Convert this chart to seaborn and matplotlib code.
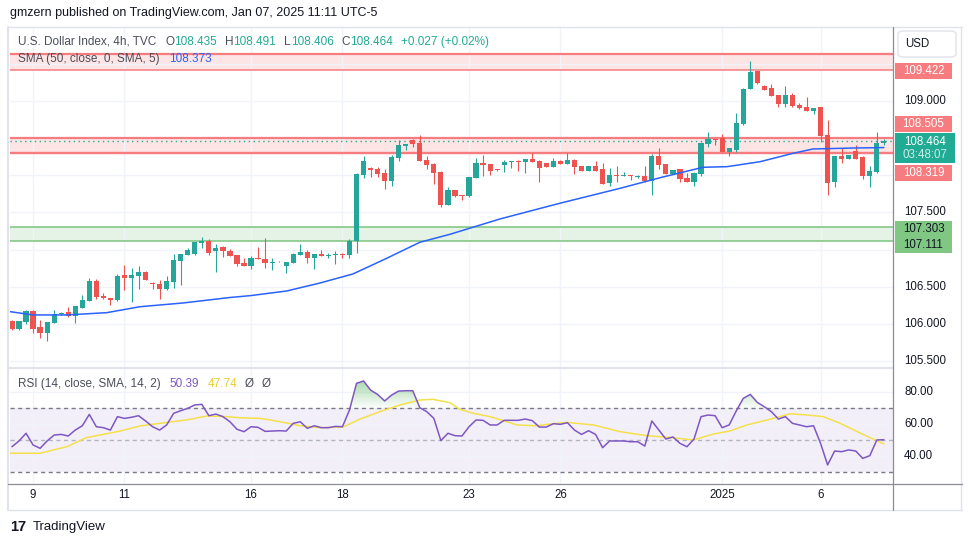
import numpy as np
import pandas as pd
import matplotlib
matplotlib.use('Agg')
import matplotlib.pyplot as plt
import seaborn as sns
from matplotlib.patches import Rectangle, FancyBboxPatch
from matplotlib.lines import Line2D
from matplotlib.path import Path
from matplotlib.colors import LinearSegmentedColormap

# DXY 4h candles, Dec 9 2024 -> Jan 7 2025
opens = [106.04, 105.93, 106.03, 106.17, 105.96, 105.88, 106.01, 106.13, 106.16, 106.11,
         106.21, 106.31, 106.58, 106.38, 106.35, 106.32, 106.66, 106.62, 106.65, 106.70,
         106.55, 106.54, 106.47, 106.56, 106.85, 106.93, 106.94, 107.09, 107.12, 106.98,
         107.03, 106.98, 106.93, 106.82, 106.78, 106.89, 106.87, 106.82, 106.84, 106.78,
         106.82, 106.93, 106.97, 106.89, 106.94, 106.92, 106.93, 106.94, 106.93, 107.12,
         108.00, 108.10, 108.08, 108.03, 107.92, 108.23, 108.39, 108.47, 108.43, 108.21,
         108.15, 108.04, 107.60, 107.80, 107.73, 107.72, 107.96, 108.17, 108.15, 108.08,
         108.14, 108.18, 108.19, 108.18, 108.22, 108.19, 108.17, 108.11, 108.19, 108.15,
         108.21, 108.12, 108.06, 108.12, 108.08, 107.90, 108.00, 107.99, 108.00, 107.98,
         107.99, 107.92, 108.26, 108.15, 108.02, 108.08, 107.96, 107.91, 108.02, 108.42,
         108.49, 108.50, 108.31, 108.34, 108.69, 109.16, 109.40, 109.20, 109.17, 109.08,
         108.96, 109.08, 108.95, 108.92, 108.87, 108.92, 108.54, 107.91, 108.26, 108.22,
         108.33, 108.25, 107.99, 108.04, 108.435]
highs = [106.05, 106.04, 106.19, 106.19, 106.05, 106.03, 106.19, 106.16, 106.23, 106.24,
         106.39, 106.62, 106.60, 106.42, 106.35, 106.67, 106.79, 106.75, 106.78, 106.71,
         106.56, 106.59, 106.65, 106.94, 106.94, 107.02, 107.10, 107.17, 107.14, 107.08,
         107.05, 107.01, 106.93, 106.89, 106.91, 107.04, 107.16, 106.89, 106.85, 106.83,
         106.95, 107.08, 107.00, 106.94, 107.00, 106.95, 106.98, 106.95, 107.14, 108.03,
         108.26, 108.11, 108.11, 108.08, 108.27, 108.48, 108.42, 108.49, 108.54, 108.26,
         108.16, 108.06, 107.84, 107.80, 107.73, 107.98, 108.23, 108.27, 108.15, 108.09,
         108.21, 108.19, 108.21, 108.22, 108.30, 108.21, 108.17, 108.23, 108.21, 108.30,
         108.22, 108.13, 108.13, 108.19, 108.17, 108.10, 108.13, 108.04, 108.01, 108.00,
         108.13, 108.28, 108.37, 108.15, 108.07, 108.08, 108.03, 108.05, 108.45, 108.58,
         108.49, 108.56, 108.37, 108.84, 109.18, 109.54, 109.40, 109.22, 109.23, 109.08,
         109.20, 109.11, 108.97, 109.05, 108.91, 108.92, 108.74, 108.26, 108.37, 108.27,
         108.41, 108.26, 108.13, 108.58, 108.491]
lows = [105.92, 105.92, 106.00, 105.88, 105.81, 105.77, 106.01, 106.12, 106.09, 106.01,
        106.21, 106.31, 106.34, 106.34, 106.25, 106.31, 106.46, 106.30, 106.47, 106.59,
        106.47, 106.34, 106.46, 106.48, 106.52, 106.93, 106.93, 107.02, 106.93, 106.70,
        106.90, 106.91, 106.78, 106.78, 106.74, 106.87, 106.75, 106.73, 106.83, 106.69,
        106.82, 106.93, 106.82, 106.74, 106.91, 106.89, 106.81, 106.89, 106.89, 106.95,
        107.96, 107.98, 107.98, 107.82, 107.86, 108.19, 108.34, 108.38, 108.19, 108.08,
        107.88, 107.57, 107.60, 107.71, 107.67, 107.71, 107.96, 107.99, 108.00, 108.06,
        108.04, 108.10, 108.06, 108.03, 108.18, 107.91, 108.11, 108.11, 108.15, 108.15,
        108.02, 108.06, 108.06, 108.06, 107.88, 107.86, 107.91, 107.99, 107.94, 107.96,
        107.91, 107.74, 108.09, 108.02, 108.02, 107.91, 107.91, 107.86, 107.99, 108.38,
        108.41, 108.31, 108.26, 108.32, 108.68, 109.16, 109.23, 109.15, 109.07, 108.92,
        108.92, 108.92, 108.89, 108.87, 108.83, 108.45, 107.73, 107.84, 108.17, 108.22,
        108.22, 107.95, 107.84, 108.03, 108.406]
closes = [105.93, 106.04, 106.17, 105.93, 105.88, 106.03, 106.13, 106.15, 106.11, 106.24,
          106.32, 106.58, 106.36, 106.35, 106.32, 106.64, 106.62, 106.66, 106.70, 106.59,
          106.54, 106.47, 106.58, 106.86, 106.94, 107.00, 107.10, 107.12, 106.95, 107.02,
          106.98, 106.91, 106.81, 106.78, 106.89, 106.87, 106.82, 106.83, 106.85, 106.83,
          106.94, 106.97, 106.89, 106.94, 106.91, 106.93, 106.94, 106.93, 107.12, 108.02,
          108.19, 108.07, 108.02, 107.92, 108.25, 108.41, 108.42, 108.42, 108.19, 108.14,
          108.03, 107.60, 107.80, 107.72, 107.72, 107.98, 108.17, 108.14, 108.06, 108.07,
          108.18, 108.19, 108.18, 108.22, 108.18, 108.10, 108.11, 108.19, 108.15, 108.21,
          108.11, 108.06, 108.12, 108.06, 107.88, 108.00, 107.99, 108.00, 107.99, 107.99,
          107.92, 108.26, 108.14, 108.02, 108.07, 107.95, 107.91, 108.03, 108.44, 108.49,
          108.47, 108.31, 108.37, 108.70, 109.16, 109.39, 109.24, 109.15, 109.07, 108.96,
          109.08, 108.93, 108.91, 108.87, 108.91, 108.53, 107.90, 108.26, 108.22, 108.27,
          108.22, 107.99, 108.06, 108.44, 108.464]

rsi_vals = [46.0, 49.6, 54.4, 47.1, 45.0, 49.6, 53.3, 53.7, 52.7, 56.4,
            59.1, 66.2, 58.5, 57.9, 56.4, 64.8, 63.7, 64.4, 65.4, 62.1,
            58.5, 56.4, 59.6, 66.9, 68.5, 70.0, 72.1, 72.5, 65.4, 66.4,
            64.8, 61.6, 56.9, 55.4, 58.5, 58.1, 55.6, 55.8, 56.0, 55.8,
            60.6, 61.6, 57.5, 59.1, 57.9, 57.9, 58.7, 58.5, 68.9, 85.6,
            87.1, 81.4, 78.7, 74.6, 78.3, 80.8, 81.0, 81.0, 70.4, 67.9,
            63.7, 49.8, 54.4, 52.9, 52.7, 58.5, 62.7, 62.5, 59.6, 59.6,
            62.5, 62.5, 62.5, 63.3, 62.3, 58.3, 58.3, 60.4, 60.0, 61.0,
            56.4, 53.7, 56.0, 53.7, 45.4, 49.6, 49.6, 49.6, 49.1, 49.1,
            46.4, 62.1, 56.4, 50.8, 52.1, 48.1, 46.0, 50.8, 64.8, 65.8,
            65.4, 57.9, 59.6, 68.3, 76.2, 78.7, 73.7, 71.0, 67.9, 63.3,
            64.8, 60.6, 59.6, 58.5, 59.1, 48.1, 34.6, 43.3, 42.9, 44.0,
            43.3, 38.7, 40.4, 50.2, 50.39]

# smooth overlays sampled along the drawn curves (bar number, value)
sma_bar = [0.7, 4.0, 8.8, 14.5, 19.2, 25.3, 32.0, 34.9, 40.1, 44.8, 49.5, 54.3, 59.0,
           63.3, 70.4, 78.9, 87.5, 93.2, 99.3, 102.7, 107.4, 112.1, 114.9, 120.6, 125.0]
sma_val = [106.165, 106.120, 106.120, 106.151, 106.231, 106.281, 106.355, 106.380, 106.443,
           106.550, 106.672, 106.883, 107.098, 107.206, 107.412, 107.623, 107.825, 107.968,
           108.108, 108.116, 108.183, 108.296, 108.354, 108.367, 108.373]
rsi_ma_bar = [0.7, 5.0, 6.9, 8.8, 11.6, 13.5, 16.4, 19.2, 22.0, 25.8, 28.7, 31.5, 33.4, 36.3,
              39.1, 42.0, 44.8, 48.1, 50.5, 53.3, 56.2, 59.0, 60.9, 63.3, 64.7, 66.6, 69.0,
              71.4, 72.8, 75.6, 78.0, 79.9, 83.7, 87.5, 91.3, 95.1, 97.9, 100.8, 103.1, 105.5,
              108.4, 111.7, 114.1, 116.4, 118.8, 121.7, 125.0]
rsi_ma_val = [41.9, 41.9, 44.0, 46.0, 51.7, 53.3, 55.8, 59.0, 60.6, 62.7, 65.2, 64.8, 64.1, 63.7,
              61.7, 59.1, 57.9, 58.3, 63.3, 67.9, 72.1, 75.2, 75.6, 73.5, 69.4, 66.9, 64.8,
              61.6, 59.6, 59.1, 60.4, 61.2, 59.6, 55.4, 52.9, 51.6, 50.2, 54.0, 55.8, 59.6,
              62.7, 66.6, 65.8, 64.8, 60.6, 54.4, 47.74]

# zones drawn on the chart
resist_hi = [109.633, 109.422]
resist_mid = [108.505, 108.319, 108.300]
support = [107.303, 107.111]
last_price = 108.464

date_ticks = [3, 16, 34, 47, 65, 78, 101, 115]
date_labels = ['9', '11', '16', '18', '23', '26', '2025', '6']
price_ticks = [105.5, 106.0, 106.5, 107.0, 107.5, 108.0, 108.5, 109.0, 109.5]
price_labels_shown = [105.5, 106.0, 106.5, 107.5, 109.0]   # the others sit under the level tags
rsi_ticks = [80, 60, 40]

UP, DOWN = '#26a69a', '#ef5350'
TXT = '#131722'
W, H = 970, 545

sns.set_theme(style='white')
plt.rcParams['font.family'] = ['Liberation Sans', 'DejaVu Sans']


def fx(px):
    return px / W


def fy(py):
    return 1 - py / H


fig = plt.figure(figsize=(W / 100, H / 100), dpi=100)
fig.patch.set_facecolor('white')
ax = fig.add_axes([fx(10), fy(368), fx(893) - fx(10), fy(27) - fy(368)])
axr = fig.add_axes([fx(10), fy(484), fx(893) - fx(10), fy(368) - fy(484)], sharex=ax)

df = pd.DataFrame({'open': opens, 'high': highs, 'low': lows, 'close': closes, 'rsi': rsi_vals})
df['bar'] = np.arange(len(df))
cols = np.where(df['close'] >= df['open'], UP, DOWN)

# zones
ax.axhspan(resist_hi[1], resist_hi[0], color='#f23645', alpha=0.13, lw=0, zorder=0.5)
ax.axhspan(resist_mid[1], resist_mid[0], color='#f23645', alpha=0.13, lw=0, zorder=0.5)
ax.axhspan(support[1], support[0], color='#4caf50', alpha=0.14, lw=0, zorder=0.5)
for v, lw in zip(resist_hi, [1.6, 1.1]):
    ax.axhline(v, color='#f77c80', lw=lw, zorder=1)
for v, lw in zip(resist_mid, [1.6, 1.0, 1.0]):
    ax.axhline(v, color='#f77c80', lw=lw, zorder=1)
for v in support:
    ax.axhline(v, color='#7cc47f', lw=1.1, zorder=1)
ax.axhline(last_price, color='#22ab94', lw=1, ls=(0, (1, 2.5)), zorder=2)

# candles
ax.vlines(df['bar'], df['low'], df['high'], colors=cols, lw=0.8, zorder=3)
body = (df['close'] - df['open']).abs().clip(lower=0.012)
ax.bar(df['bar'], body, bottom=np.minimum(df['open'], df['close']), width=0.74,
       color=cols, lw=0, zorder=4)

sns.lineplot(x=np.array(sma_bar) - 1, y=sma_val, ax=ax, color='#2962ff', lw=1.1, zorder=5)

ax.set_xlim(-0.28, 125.3)
ax.set_ylim(105.406, 109.996)
ax.set_xticks(date_ticks)
ax.set_yticks(price_ticks)
ax.grid(True, color='#f0f3fa', lw=1)
ax.set_axisbelow(True)
ax.tick_params(length=0, labelbottom=False, labelleft=False)
for s in ax.spines.values():
    s.set_visible(False)
for v in price_labels_shown:
    ax.text(1.0125, v, f'{v:.3f}', transform=ax.get_yaxis_transform(), ha='left',
            va='center', fontsize=8.3, color=TXT, clip_on=False)

# RSI panel
axr.axhspan(30, 70, color='#7e57c2', alpha=0.09, lw=0, zorder=0.5)
axr.axhline(70, color='#787b86', lw=1, ls=(0, (3, 2.5)), zorder=1)
axr.axhline(30, color='#787b86', lw=1, ls=(0, (3, 2.5)), zorder=1)
axr.axhline(50, color='#b2b5be', lw=1, ls=(0, (3, 2.5)), zorder=1)
poly = axr.fill_between(df['bar'], df['rsi'], 70, where=df['rsi'] > 70, interpolate=True,
                        color='none', lw=0)
paths = poly.get_paths()
if paths:
    clip = Path.make_compound_path(*paths)
    grad = np.linspace(0, 1, 100).reshape(-1, 1)
    gcm = LinearSegmentedColormap.from_list('g', [(0.3, 0.69, 0.31, 0.02), (0.3, 0.69, 0.31, 0.55)])
    im = axr.imshow(grad, extent=[-0.5, 125.5, 70, 90], origin='lower', aspect='auto',
                    cmap=gcm, zorder=1.5)
    im.set_clip_path(clip, axr.transData)
sns.lineplot(x=np.array(rsi_ma_bar) - 1, y=rsi_ma_val, ax=axr, color='#f5e04a', lw=1.1, zorder=3)
sns.lineplot(x=df['bar'], y=df['rsi'], ax=axr, color='#7e57c2', lw=1.1, zorder=4)
axr.set_xlim(-0.28, 125.3)
axr.set_ylim(22.7, 95.2)
axr.set_yticks(rsi_ticks)
axr.grid(True, color='#f0f3fa', lw=1)
axr.set_axisbelow(True)
axr.tick_params(length=0, labelbottom=False, labelleft=False)
axr.set_xlabel('')
axr.set_ylabel('')
ax.set_xlabel('')
ax.set_ylabel('')
for s in axr.spines.values():
    s.set_visible(False)
for v in rsi_ticks:
    axr.text(1.0125, v, f'{v:.2f}', transform=axr.get_yaxis_transform(), ha='left',
             va='center', fontsize=8.3, color=TXT, clip_on=False)
for b, lab in zip(date_ticks, date_labels):
    axr.text(b, -0.095, lab, transform=axr.get_xaxis_transform(), ha='center', va='center',
             fontsize=8.3, color=TXT, clip_on=False)

# frame lines
def hline(y, x0, x1, c, lw=1):
    fig.add_artist(Line2D([fx(x0), fx(x1)], [fy(y), fy(y)], color=c, lw=lw))


def vline(x, y0, y1, c, lw=1):
    fig.add_artist(Line2D([fx(x), fx(x)], [fy(y0), fy(y1)], color=c, lw=lw))


hline(27, 8, 962, '#e0e3eb')
hline(510, 8, 962, '#e0e3eb')
vline(8.5, 27, 510, '#e0e3eb', 1.5)
vline(961.5, 27, 510, '#e0e3eb')
hline(368, 8, 893, '#e0e3eb', 1.5)
vline(893.5, 27, 510, '#8a8d96', 0.9)
hline(484, 8, 962, '#8a8d96', 0.9)

# price scale labels
def price_box(value, text, face, tc, shift=0, h=16, w=57, sub=None):
    yd = ax.transData.transform((0, value))[1] - shift
    fig.add_artist(Rectangle((fx(895), (yd - h / 2) / H), w / W, h / H, facecolor=face,
                             edgecolor='none', zorder=5))
    if sub is None:
        fig.text(fx(895 + w / 2), yd / H, text, ha='center', va='center', fontsize=8.3,
                 color=tc, zorder=6)
    else:
        fig.text(fx(895 + w / 2), (yd + 6.5) / H, text, ha='center', va='center',
                 fontsize=8.3, color=tc, zorder=6)
        fig.text(fx(895 + w / 2), (yd - 7) / H, sub, ha='center', va='center',
                 fontsize=8.3, color='#c9eee7', zorder=6)


price_box(resist_hi[1], '109.422', '#f77c80', 'white', shift=1)
price_box(resist_mid[0], '108.505', '#f77c80', 'white', shift=-13.5)
price_box(last_price, '108.464', '#22ab94', 'white', shift=7.2, h=30, w=60, sub='03:48:07')
price_box(resist_mid[1], '108.319', '#f77c80', 'white', shift=21.7)
price_box(support[0], '107.303', '#81c784', TXT, shift=2)
price_box(support[1], '107.111', '#81c784', TXT, shift=3.6)

fig.add_artist(FancyBboxPatch((fx(898), fy(57)), fx(58), 26 / H,
                              boxstyle='round,pad=0,rounding_size=0.006',
                              facecolor='white', edgecolor='#e0e3eb', lw=1))
fig.text(fx(905), fy(44), 'USD', fontsize=8.3, color=TXT, va='center')

# legends
renderer = fig.canvas.get_renderer()


def chain(x_px, y_px, parts, size=8.5):
    x = x_px
    for txt, col, gap in parts:
        t = fig.text(fx(x), fy(y_px), txt, color=col, fontsize=size, va='center', ha='left')
        x += t.get_window_extent(renderer).width + gap


GRAY = '#4a4e59'
TEAL = '#22ab94'
chain(18, 42, [('U.S. Dollar Index, 4h, TVC', GRAY, 9), ('O', GRAY, 0), ('108.435', TEAL, 8),
               ('H', GRAY, 0), ('108.491', TEAL, 8), ('L', GRAY, 0), ('108.406', TEAL, 8),
               ('C', GRAY, 0), ('108.464', TEAL, 8), ('+0.027 (+0.02%)', TEAL, 0)])
chain(18, 59, [('SMA (50, close, 0, SMA, 5)', GRAY, 9), ('108.373', '#2962ff', 0)])
chain(18, 384, [('RSI (14, close, SMA, 14, 2)', GRAY, 9), ('50.39', '#7e57c2', 8),
                ('47.74', '#e8cf2e', 8), ('Ø', GRAY, 8), ('Ø', GRAY, 0)])

fig.text(fx(10), fy(13), 'gmzern published on TradingView.com, Jan 07, 2025 11:11 UTC-5',
         fontsize=9, color=TXT, va='center')
fig.text(fx(10), fy(527), '17', fontsize=10.5, fontweight='heavy', color=TXT, va='center')
fig.text(fx(33), fy(527), 'TradingView', fontsize=9.5, color=TXT, va='center')

fig.savefig('out.png', dpi=100)
